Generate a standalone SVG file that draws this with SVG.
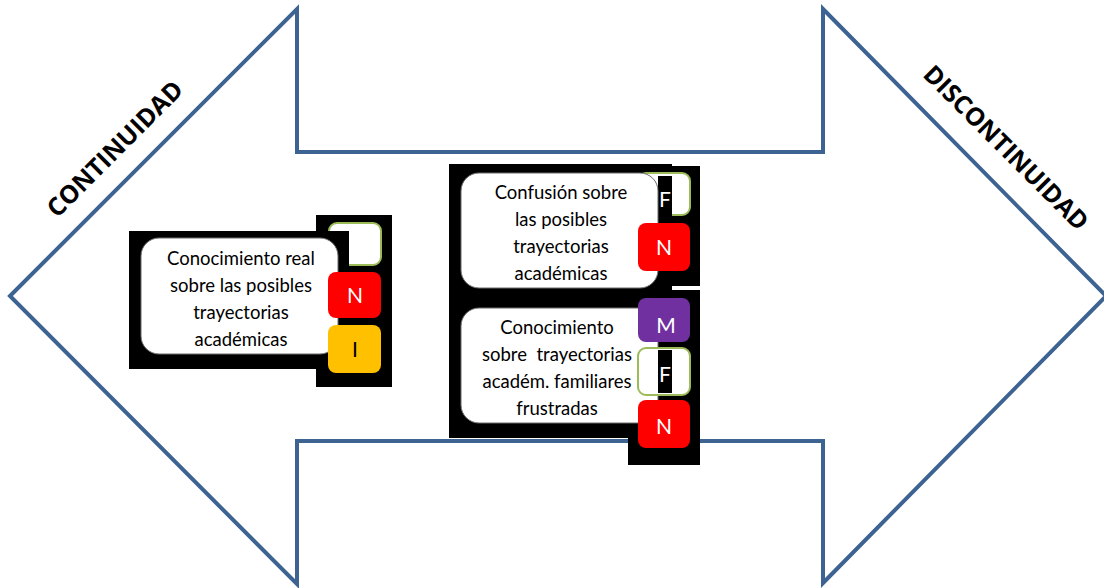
<svg xmlns="http://www.w3.org/2000/svg" width="1104" height="588" viewBox="0 0 1104 588">
  <style>
    .arrow { fill: #ffffff; stroke: #3d6392; stroke-width: 4; stroke-linejoin: miter; }
    .blk { fill: #000000; }
    .card { fill: #ffffff; stroke: #6b6b6b; stroke-width: 1; }
    .tag { stroke: none; }
    .green { fill: #ffffff; stroke: #9bbb59; stroke-width: 2; }
    .txt { font-family: "Lato", "Liberation Sans", sans-serif; font-size: 18.5px; fill: #000000; text-anchor: middle; }
    .letter { font-family: "Lato", "Liberation Sans", sans-serif; font-size: 21px; fill: #ffffff; text-anchor: middle; }
    .side { font-family: "Open Sans", "Liberation Sans", sans-serif; font-weight: bold; font-size: 25px; fill: #000000; text-anchor: middle; }
  </style>

  <!-- double-headed background arrow -->
  <path class="arrow" d="M10,296 L297,9 L297,152 L823,152 L823,9 L1106,296 L823,583 L823,441 L297,441 L297,584 Z"/>

  <!-- end labels -->
  <g id="labels">
    <text class="side" transform="translate(121,155) rotate(-45)">CONTINUIDAD</text>
    <text class="side" transform="translate(1000,154) rotate(45)">DISCONTINUIDAD</text>
  </g>

  <!-- left card -->
  <g id="node-continuidad">
    <rect class="blk" x="316" y="215" width="76" height="172"/>
    <rect class="green" x="329" y="223" width="52" height="42" rx="8"/>
    <rect class="blk" x="129" y="231" width="220" height="138"/>
    <rect class="card" x="141" y="238" width="197" height="116" rx="18"/>
    <text class="txt" x="241" y="265">Conocimiento real</text>
    <text class="txt" x="241" y="292">sobre las posibles</text>
    <text class="txt" x="241" y="319">trayectorias</text>
    <text class="txt" x="241" y="346">académicas</text>
    <rect class="tag" fill="#ff0000" x="328" y="272" width="53" height="46" rx="8"/>
    <text class="letter" x="355" y="303">N</text>
    <rect class="tag" fill="#ffc000" x="328" y="325" width="53" height="48" rx="8"/>
    <text class="letter" x="355" y="357" style="fill:#000000">I</text>
  </g>

  <!-- upper right card -->
  <g id="node-confusion">
    <rect class="blk" x="628" y="166" width="72" height="120"/>
    <rect class="blk" x="449" y="164" width="223" height="130"/>
    <rect class="green" x="638" y="173" width="52" height="42" rx="8"/>
    <rect class="blk" x="658" y="176" width="14" height="40"/>
    <rect class="card" x="461" y="173" width="197" height="115" rx="18"/>
    <text class="letter" x="665" y="207">F</text>
    <text class="txt" x="561" y="199">Confusión sobre</text>
    <text class="txt" x="561" y="226">las posibles</text>
    <text class="txt" x="561" y="253">trayectorias</text>
    <text class="txt" x="561" y="280">académicas</text>
    <rect class="tag" fill="#ff0000" x="638" y="223" width="52" height="48" rx="8"/>
    <text class="letter" x="664" y="255">N</text>
  </g>

  <!-- lower right card -->
  <g id="node-frustradas">
    <rect class="blk" x="449" y="292" width="179" height="146"/>
    <rect class="blk" x="628" y="290" width="72" height="175"/>
    <rect class="card" x="461" y="308" width="197" height="115" rx="18"/>
    <text class="txt" x="557" y="334">Conocimiento</text>
    <text class="txt" x="557" y="361" xml:space="preserve">sobre  trayectorias</text>
    <text class="txt" x="557" y="388">académ. familiares</text>
    <text class="txt" x="557" y="415">frustradas</text>
    <rect class="tag" fill="#7030a0" x="638" y="298" width="52" height="44" rx="8"/>
    <text class="letter" x="666" y="333">M</text>
    <rect class="green" x="638" y="348" width="52" height="47" rx="8"/>
    <rect class="blk" x="658" y="350" width="14" height="43"/>
    <text class="letter" x="665" y="382">F</text>
    <rect class="tag" fill="#ff0000" x="638" y="400" width="52" height="48" rx="8"/>
    <text class="letter" x="664" y="434">N</text>
  </g>
</svg>
